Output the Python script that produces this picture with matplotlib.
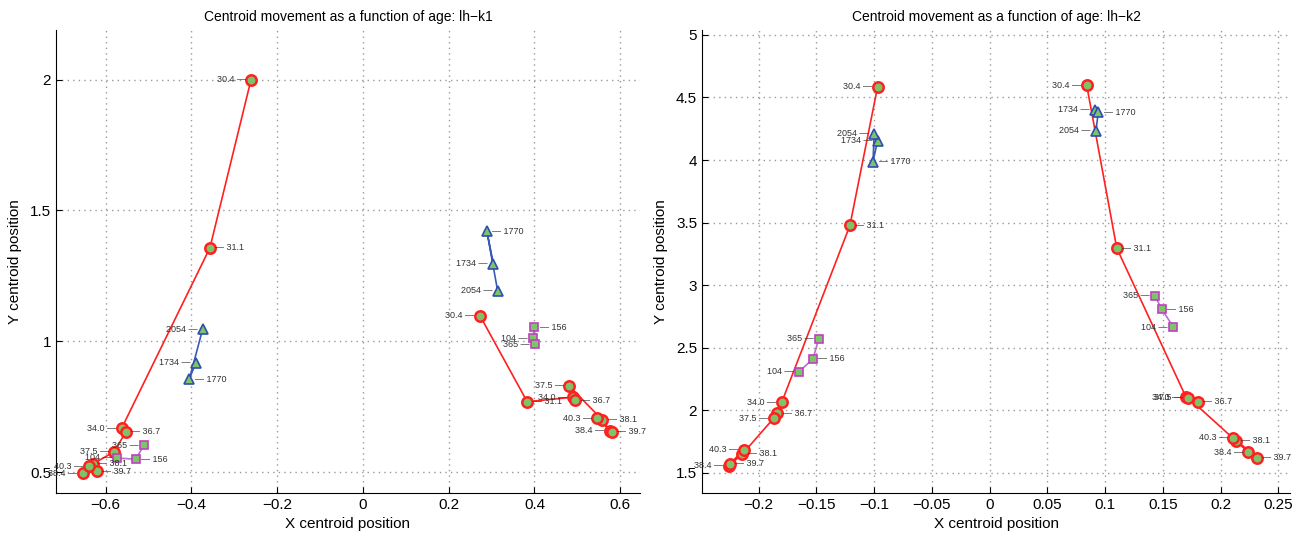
import matplotlib
matplotlib.use('Agg')
import matplotlib.pyplot as plt

plt.rcParams['font.family'] = ['Liberation Sans', 'DejaVu Sans']

# ---- lh-k1 ----
k1_age = ['30.4', '31.1', '34.0', '36.7', '37.5', '38.1', '38.4', '39.7', '40.3']
k1_a_x = [-0.261, -0.357, -0.563, -0.553, -0.580, -0.630, -0.653, -0.621, -0.639]
k1_a_y = [2.000, 1.357, 0.667, 0.654, 0.578, 0.531, 0.496, 0.504, 0.523]
k1_b_x = [0.273, 0.383, 0.489, 0.495, 0.481, 0.558, 0.576, 0.580, 0.546]
k1_b_y = [1.097, 0.769, 0.786, 0.775, 0.829, 0.700, 0.658, 0.655, 0.705]

k1_old = ['1734', '1770', '2054']
k1_old_a_x = [-0.390, -0.405, -0.374]
k1_old_a_y = [0.918, 0.855, 1.046]
k1_old_b_x = [0.304, 0.289, 0.314]
k1_old_b_y = [1.296, 1.420, 1.193]

k1_mid = ['104', '156', '365']
k1_mid_a_x = [-0.574, -0.530, -0.511]
k1_mid_a_y = [0.554, 0.549, 0.603]
k1_mid_b_x = [0.396, 0.400, 0.401]
k1_mid_b_y = [1.012, 1.054, 0.989]

# ---- lh-k2 ----
k2_age = k1_age
k2_a_x = [-0.097, -0.121, -0.180, -0.184, -0.187, -0.214, -0.226, -0.225, -0.213]
k2_a_y = [4.586, 3.477, 2.065, 1.977, 1.937, 1.652, 1.556, 1.572, 1.684]
k2_b_x = [0.084, 0.110, 0.170, 0.180, 0.172, 0.213, 0.224, 0.231, 0.211]
k2_b_y = [4.596, 3.296, 2.105, 2.070, 2.101, 1.758, 1.665, 1.622, 1.782]

k2_old = k1_old
k2_old_a_x = [-0.097, -0.101, -0.100]
k2_old_a_y = [4.154, 3.988, 4.210]
k2_old_b_x = [0.091, 0.094, 0.092]
k2_old_b_y = [4.402, 4.383, 4.234]

k2_mid = k1_mid
k2_mid_a_x = [-0.165, -0.153, -0.148]
k2_mid_a_y = [2.310, 2.411, 2.571]
k2_mid_b_x = [0.159, 0.149, 0.143]
k2_mid_b_y = [2.665, 2.809, 2.915]

GREEN = '#7cc36a'


def draw_track(ax, xs, ys, labels, marker, edge, line, ms, mew):
    """Draws one track with alternating left/right labels"""
    ax.plot(xs, ys, '-', color=line, lw=1.2, zorder=2)
    ax.plot(xs, ys, linestyle='none', marker=marker, ms=ms, mfc=GREEN,
            mec=edge, mew=mew, zorder=3)
    for i, (x, y, lab) in enumerate(zip(xs, ys, labels)):
        if i % 2 == 0:
            ax.annotate(lab + ' \u2014', (x, y), xytext=(-4, 0),
                        textcoords='offset points', ha='right', va='center',
                        fontsize=6.5, color='#333333', zorder=4)
        else:
            ax.annotate('\u2014 ' + lab, (x, y), xytext=(4, 0),
                        textcoords='offset points', ha='left', va='center',
                        fontsize=6.5, color='#333333', zorder=4)


def style_axes(ax, title):
    ax.set_title(title, fontsize=10, pad=6)
    ax.set_xlabel('X centroid position', fontsize=11)
    ax.set_ylabel('Y centroid position', fontsize=11, labelpad=6)
    ax.spines['top'].set_visible(False)
    ax.spines['right'].set_visible(False)
    ax.grid(True, linestyle=(0, (1, 3)), color='#999999', lw=1.0)
    ax.tick_params(direction='in', labelsize=11, length=4)


fig = plt.figure(figsize=(12.96, 5.38), dpi=100)
ax1 = fig.add_axes([0.0432, 0.0836, 0.4506, 0.861])
ax2 = fig.add_axes([0.5417, 0.0836, 0.4537, 0.861])

for ax, data in [
    (ax1, [(k1_a_x, k1_a_y), (k1_b_x, k1_b_y),
           (k1_old_a_x, k1_old_a_y), (k1_old_b_x, k1_old_b_y),
           (k1_mid_a_x, k1_mid_a_y), (k1_mid_b_x, k1_mid_b_y)]),
    (ax2, [(k2_a_x, k2_a_y), (k2_b_x, k2_b_y),
           (k2_old_a_x, k2_old_a_y), (k2_old_b_x, k2_old_b_y),
           (k2_mid_a_x, k2_mid_a_y), (k2_mid_b_x, k2_mid_b_y)]),
]:
    for xs, ys in data[0:2]:
        draw_track(ax, xs, ys, k1_age, 'o', '#ff2020', '#ff2020', 7.5, 1.8)
    for xs, ys in data[2:4]:
        draw_track(ax, xs, ys, k1_old, '^', '#2f4fb0', '#3a5ab8', 7, 1.2)
    for xs, ys in data[4:6]:
        draw_track(ax, xs, ys, k1_mid, 's', '#c040c0', '#b870d0', 6, 1.2)

style_axes(ax1, 'Centroid movement as a function of age: lh\u2212k1')
ax1.set_xlim(-0.716, 0.646)
ax1.set_ylim(0.42, 2.19)
ax1.set_xticks([-0.6, -0.4, -0.2, 0, 0.2, 0.4, 0.6])
ax1.set_xticklabels(['\u22120.6', '\u22120.4', '\u22120.2', '0', '0.2', '0.4', '0.6'])
ax1.set_yticks([0.5, 1, 1.5, 2])
ax1.set_yticklabels(['0.5', '1', '1.5', '2'])

style_axes(ax2, 'Centroid movement as a function of age: lh\u2212k2')
ax2.set_xlim(-0.249, 0.26)
ax2.set_ylim(1.34, 5.04)
xt = [-0.2, -0.15, -0.1, -0.05, 0, 0.05, 0.1, 0.15, 0.2, 0.25]
ax2.set_xticks(xt)
ax2.set_xticklabels([('%g' % v).replace('-', '\u2212') for v in xt])
yt = [1.5, 2, 2.5, 3, 3.5, 4, 4.5, 5]
ax2.set_yticks(yt)
ax2.set_yticklabels(['%g' % v for v in yt])

fig.savefig('out.png', dpi=100)
